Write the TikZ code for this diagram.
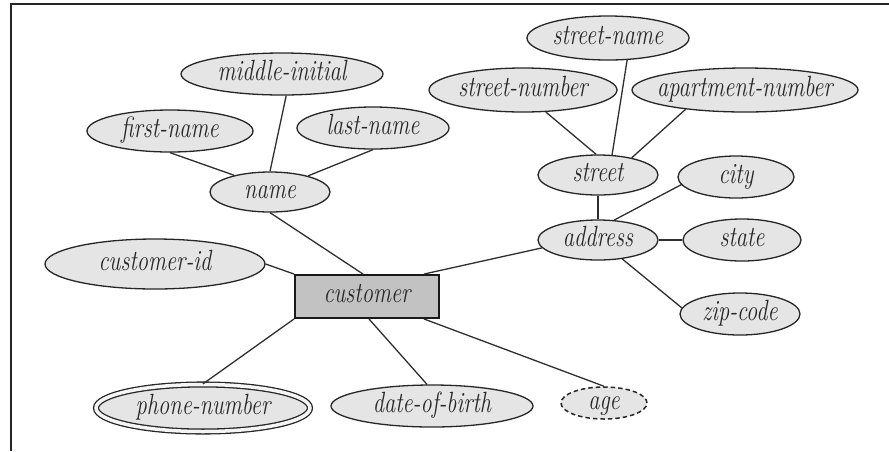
\documentclass[tikz,border=0pt]{standalone}
\usepackage{graphicx}
\usetikzlibrary{shapes.geometric}
% labels: taller than the natural shape, and taking no room so that the
% outline keeps the size given to the node
\newcommand\lbl[1]{\smash{\makebox[0pt]{\raisebox{-6pt}{\scalebox{1}[1.3]{#1}}}}}
\begin{document}
\begin{tikzpicture}[x=1pt,y=-1pt,
  attr/.style={ellipse, draw=black!85, line width=1.3pt, fill=black!10,
    inner sep=0pt, text=black!85, font=\fontsize{22.5}{27}\selectfont\itshape},
  multi/.style={attr, double=black!4, double distance=3.5pt},
  derived/.style={attr, line width=1.5pt, dashed, dash pattern=on 4.5pt off 3pt},
  ent/.style={rectangle, draw=black!90, line width=1.9pt, fill=black!24,
    inner sep=0pt, text=black!85, font=\fontsize{22.5}{27}\selectfont\itshape},
  link/.style={draw=black!82, line width=1.3pt},
  frame/.style={draw=black!85, line width=1.8pt}]
\useasboundingbox (0,0) rectangle (889,451);

% page frame
\coordinate (fr1) at (889,4);
\coordinate (fr2) at (11,4);
\coordinate (fr3) at (11,451);
\draw[frame] (fr1) -- (fr2) -- (fr3);

% entity
\node[ent, minimum width=144, minimum height=43] (cust) at (367,296.5) {\lbl{customer}};

% attributes
\node[attr, minimum width=166, minimum height=42] (fn) at (170,131) {\lbl{first-name}};
\node[attr, minimum width=202, minimum height=42] (mi) at (282,74) {\lbl{middle-initial}};
\node[attr, minimum width=152, minimum height=42] (ln) at (373,128) {\lbl{last-name}};
\node[attr, minimum width=120, minimum height=40] (name) at (270,192) {\lbl{name}};
\node[attr, minimum width=220, minimum height=50] (cid) at (155,264) {\lbl{customer-id}};
\node[multi, minimum width=214, minimum height=47] (phone) at (203,408) {\lbl{phone-number}};
\node[attr, minimum width=202, minimum height=42] (dob) at (432,406) {\lbl{date-of-birth}};
\node[derived, minimum width=86, minimum height=32] (age) at (604,403) {\lbl{age}};
\node[attr, minimum width=120, minimum height=40] (addr) at (598,240) {\lbl{address}};
\node[attr, minimum width=120, minimum height=40] (street) at (598,175) {\lbl{street}};
\node[attr, minimum width=116, minimum height=42] (city) at (736,177) {\lbl{city}};
\node[attr, minimum width=118, minimum height=42] (state) at (742,240) {\lbl{state}};
\node[attr, minimum width=120, minimum height=42] (zip) at (740,314) {\lbl{zip-code}};
\node[attr, minimum width=226, minimum height=44] (apt) at (745,90) {\lbl{apartment-number}};
\node[attr, minimum width=162, minimum height=44] (stname) at (608,38) {\lbl{street-name}};
\node[attr, minimum width=188, minimum height=44] (snum) at (523,90) {\lbl{street-number}};

% composite attribute name
\draw[link] (fn.south) -- (name.155);
\draw[link] (mi.-79) -- (name.north);
\draw[link] (ln.south) -- (name.23);

% attributes of customer
\draw[link] (name.south) -- (cust.100);
\draw[link] (cid.east) -- (cust.north west);
\draw[link] (cust.south west) -- (phone.north);
\draw[link] (cust.-85) -- (dob.103);
\draw[link] ([xshift=-16pt]cust.south east) -- (age.north);
\draw[link] ([xshift=-16pt]cust.north east) -- (addr.188);

% composite attribute address
\draw[link] (addr.north) -- (street.south);
\draw[link] (addr.51) -- (city.188);
\draw[link] (addr.east) -- (state.west);
\draw[link] (addr.-38) -- (zip.174);

% composite attribute street
\draw[link] (snum.-44) -- (street.95);
\draw[link] (stname.-49) -- (street.55);
\draw[link] (apt.198) -- (street.27);
\end{tikzpicture}
\end{document}
